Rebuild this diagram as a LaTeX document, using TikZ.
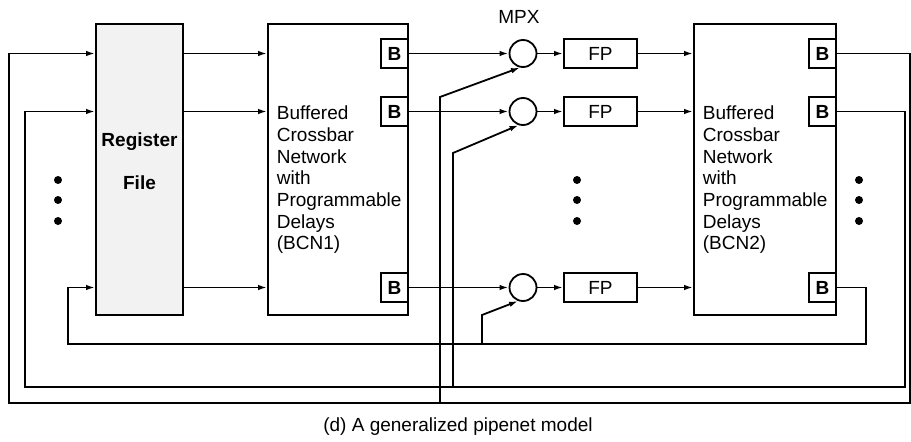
\documentclass[tikz,border=0pt]{standalone}
\usepackage{fontspec}
\setmainfont{Liberation Sans}
\usetikzlibrary{arrows.meta}
\begin{document}
\begin{tikzpicture}[x=1pt,y=-1pt,
  line width=1.8pt,
  font=\fontsize{19}{21.7}\selectfont,
  arr/.style={-{Latex[length=9pt,width=5.5pt]}},
  blk/.style={draw, inner sep=0pt, minimum width=#1, minimum height=291pt},
  bbox/.style={draw, fill=white, inner sep=0pt, minimum width=27pt, minimum height=29pt, font=\fontsize{19}{21.7}\selectfont\bfseries},
  fpbox/.style={draw, inner sep=0pt, minimum width=73pt, minimum height=29pt},
  mpx/.style={draw, circle, inner sep=0pt, minimum size=27pt},
  dot/.style={fill=black}
]
\useasboundingbox (0,0) rectangle (911,442);

% main blocks
\node[blk=87pt, fill=gray!10] (RF) at (139.5,169.5) {};
\node[font=\fontsize{19}{21.7}\selectfont\bfseries] (rft1) at (139.5,142) {Register};
\node[font=\fontsize{19}{21.7}\selectfont\bfseries] (rft2) at (139.5,183) {File};
\node[blk=140pt] (BCN1) at (338,169.5) {};
\node[blk=142pt] (BCN2) at (765,169.5) {};
\node[anchor=north west, inner sep=0pt, align=left] (t1) at (276,105)
  {Buffered\\Crossbar\\Network\\with\\Programmable\\Delays\\(BCN1)};
\node[anchor=north west, inner sep=0pt, align=left] (t2) at (702,105)
  {Buffered\\Crossbar\\Network\\with\\Programmable\\Delays\\(BCN2)};

% buffers
\node[bbox] (b11) at (394.5,53.5) {B};
\node[bbox] (b12) at (394.5,111.5) {B};
\node[bbox] (b13) at (394.5,287.5) {B};
\node[bbox] (b21) at (822.5,53.5) {B};
\node[bbox] (b22) at (822.5,111.5) {B};
\node[bbox] (b23) at (822.5,287.5) {B};

% multiplexers and FP units
\node (mpxl) at (519,17) {MPX};
\node[mpx] (m1) at (523,53.5) {};
\node[mpx] (m2) at (523,111.5) {};
\node[mpx] (m3) at (523,287.5) {};
\node[fpbox] (fp1) at (600.5,53.5) {FP};
\node[fpbox] (fp2) at (600.5,111.5) {FP};
\node[fpbox] (fp3) at (600.5,287.5) {FP};

% RF -> BCN1
\draw[arr] (RF.east |- b11) -- (BCN1.west |- b11);
\draw[arr] (RF.east |- b12) -- (BCN1.west |- b12);
\draw[arr] (RF.east |- b13) -- (BCN1.west |- b13);
% B -> MPX -> FP -> BCN2
\draw[arr] (b11) -- (m1);
\draw[arr] (b12) -- (m2);
\draw[arr] (b13) -- (m3);
\draw[arr] (m1) -- (fp1);
\draw[arr] (m2) -- (fp2);
\draw[arr] (m3) -- (fp3);
\draw[arr] (fp1) -- (BCN2.west |- fp1);
\draw[arr] (fp2) -- (BCN2.west |- fp2);
\draw[arr] (fp3) -- (BCN2.west |- fp3);

% feedback loops
\coordinate (c1r) at (910,403);
\coordinate (c1l) at (9,403);
\coordinate (c2r) at (905,387);
\coordinate (c2l) at (25,387);
\coordinate (c3r) at (866,344);
\coordinate (c3l) at (68,344);
\draw[arr] (b21.east) -| (c1r) -- (c1l) |- (RF.west |- b11);
\draw[arr] (b22.east) -| (c2r) -- (c2l) |- (RF.west |- b12);
\draw[arr] (b23.east) -| (c3r) -- (c3l) |- (RF.west |- b13);

% branches to the MPX second inputs
\coordinate (j1) at (440,403);
\coordinate (k1) at (440,97);
\coordinate (j2) at (453,387);
\coordinate (k2) at (453,153);
\coordinate (j3) at (482,344);
\coordinate (k3) at (482,315);
\draw[arr] (j1) -- (k1) -- (m1.258);
\draw[arr] (j2) -- (k2) -- (m2.252);
\draw[arr] (j3) -- (k3) -- (m3.250);

% ellipsis dots
\foreach \x/\n in {58/a,577/b,859/c}{
  \foreach \y/\k in {180/1,200/2,221/3}{
    \fill[dot] (\x,\y) circle (4pt);
  }
}

\node (cap) at (458,427) {(d) A generalized pipenet model};
\end{tikzpicture}
\end{document}
